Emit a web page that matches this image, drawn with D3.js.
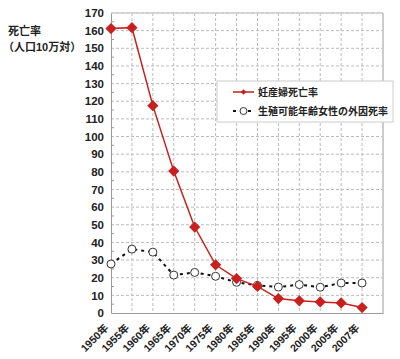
<!DOCTYPE html>
<html>
<head>
<meta charset="utf-8">
<script src="https://cdn.jsdelivr.net/npm/d3@7"></script>
<style>
  body { margin: 0; background: #fff; }
  svg text { font-family: Arial, "Liberation Sans", "Noto Sans CJK JP", sans-serif; font-weight: bold; fill: #222; }
</style>
</head>
<body>
<div id="vis"></div>
<script>
const years = ['1950年', '1955年', '1960年', '1965年', '1970年', '1975年', '1980年', '1985年', '1990年', '1995年', '2000年', '2005年', '2007年']
const maternal = [161.2, 161.7, 117.5, 80.4, 48.7, 27.3, 19.5, 15.1, 8.2, 6.9, 6.3, 5.7, 3.1]
const external = [27.8, 36.2, 34.5, 21.5, 23.0, 20.8, 17.4, 15.6, 14.7, 16.1, 14.6, 17.0, 17.0]
const yTicks = d3.range(0, 171, 10)
const seriesNames = ['妊産婦死亡率', '生殖可能年齢女性の外因死率']

const width = 400
const height = 359
const margin = { top: 13, right: 17, bottom: 46, left: 111 }
const chartWidth = width - margin.left - margin.right
const chartHeight = height - margin.top - margin.bottom
const red = '#c8201e'

const svg = d3.select('#vis').append('svg')
  .attr('width', width).attr('height', height)

const g = svg.append('g')
  .attr('transform', `translate(${margin.left},${margin.top})`)

// 14 slots, first category sits on the left axis
const x = d3.scalePoint()
  .domain(years.concat(['_end']))
  .range([0, chartWidth])

const y = d3.scaleLinear()
  .domain([0, 170])
  .range([chartHeight, 0])

// grid
g.append('g')
  .selectAll('line')
  .data(yTicks.slice(1))
  .join('line')
  .attr('x1', 0).attr('x2', chartWidth)
  .attr('y1', (d) => y(d)).attr('y2', (d) => y(d))
  .attr('stroke', '#bbb').attr('stroke-dasharray', '3,2')

g.append('g')
  .selectAll('line')
  .data(years.slice(1))
  .join('line')
  .attr('x1', (d) => x(d)).attr('x2', (d) => x(d))
  .attr('y1', 0).attr('y2', chartHeight)
  .attr('stroke', '#bbb').attr('stroke-dasharray', '3,2')

// minor ticks at the 5s
g.append('g')
  .selectAll('line')
  .data(d3.range(5, 170, 10))
  .join('line')
  .attr('x1', 0).attr('x2', 3)
  .attr('y1', (d) => y(d)).attr('y2', (d) => y(d))
  .attr('stroke', '#999')

// frame
g.append('line').attr('x1', 0).attr('x2', chartWidth).attr('y1', 0).attr('y2', 0)
  .attr('stroke', '#ccc').attr('stroke-width', 1.5)
g.append('line').attr('x1', chartWidth).attr('x2', chartWidth).attr('y1', 0).attr('y2', chartHeight)
  .attr('stroke', '#ccc').attr('stroke-width', 2)

const yAxis = d3.axisLeft(y)
  .tickValues(yTicks)
  .tickSize(0)
  .tickPadding(7)

g.append('g')
  .attr('class', 'y axis')
  .call(yAxis)
  .call((s) => s.select('.domain').attr('stroke', '#999'))
  .selectAll('text')
  .attr('font-size', 11.5)

const xAxis = d3.axisBottom(x)
  .tickValues(years)
  .tickSize(0)
  .tickPadding(0)

g.append('g')
  .attr('class', 'x axis')
  .attr('transform', `translate(0,${chartHeight})`)
  .call(xAxis)
  .call((s) => s.select('.domain').attr('stroke', '#999'))
  .selectAll('text')
  .attr('font-size', 10.5)
  .attr('font-weight', 'normal')
  .attr('text-anchor', 'end')
  .attr('dy', '0.35em')
  .attr('y', 0)
  .attr('transform', 'translate(-5,13) rotate(-45)')

// external cause series
const line = (vals) => d3.line()
  .x((d, i) => x(years[i]))
  .y((d) => y(d))(vals)

g.append('path')
  .attr('d', line(external))
  .attr('fill', 'none')
  .attr('stroke', '#111')
  .attr('stroke-width', 2)
  .attr('stroke-dasharray', '3,4')

g.append('g')
  .selectAll('circle')
  .data(external)
  .join('circle')
  .attr('cx', (d, i) => x(years[i]))
  .attr('cy', (d) => y(d))
  .attr('r', 4)
  .attr('fill', '#fff')
  .attr('stroke', '#333')
  .attr('stroke-width', 1)

// maternal series
g.append('path')
  .attr('d', line(maternal))
  .attr('fill', 'none')
  .attr('stroke', red)
  .attr('stroke-width', 1.5)

const diamond = d3.symbol().type(d3.symbolDiamond2).size(80)

g.append('g')
  .selectAll('path')
  .data(maternal)
  .join('path')
  .attr('d', diamond)
  .attr('transform', (d, i) => `translate(${x(years[i])},${y(d)})`)
  .attr('fill', red)

// legend
const legend = svg.append('g')
  .attr('transform', 'translate(217,81)')

legend.append('rect')
  .attr('width', 176)
  .attr('height', 41)
  .attr('fill', '#fff')
  .attr('stroke', '#ccc')

legend.append('line')
  .attr('x1', 16).attr('x2', 37).attr('y1', 11).attr('y2', 11)
  .attr('stroke', red).attr('stroke-width', 1.5)
legend.append('path')
  .attr('d', d3.symbol().type(d3.symbolDiamond2).size(20))
  .attr('transform', 'translate(26.5,11)')
  .attr('fill', red)
legend.append('text')
  .attr('x', 41).attr('y', 15)
  .attr('font-size', 10)
  .text(seriesNames[0])

legend.append('line')
  .attr('x1', 16).attr('x2', 37).attr('y1', 30).attr('y2', 30)
  .attr('stroke', '#111').attr('stroke-width', 2).attr('stroke-dasharray', '3,4.5')
legend.append('circle')
  .attr('cx', 26.5).attr('cy', 30).attr('r', 3.5)
  .attr('fill', '#fff').attr('stroke', '#333')
legend.append('text')
  .attr('x', 41).attr('y', 34)
  .attr('font-size', 10)
  .text(seriesNames[1])

// y title
svg.append('text')
  .attr('x', 8).attr('y', 35)
  .attr('font-size', 11)
  .text('死亡率')
svg.append('text')
  .attr('x', 3).attr('y', 51)
  .attr('font-size', 11)
  .text('（人口10万対）')
</script>
</body>
</html>
